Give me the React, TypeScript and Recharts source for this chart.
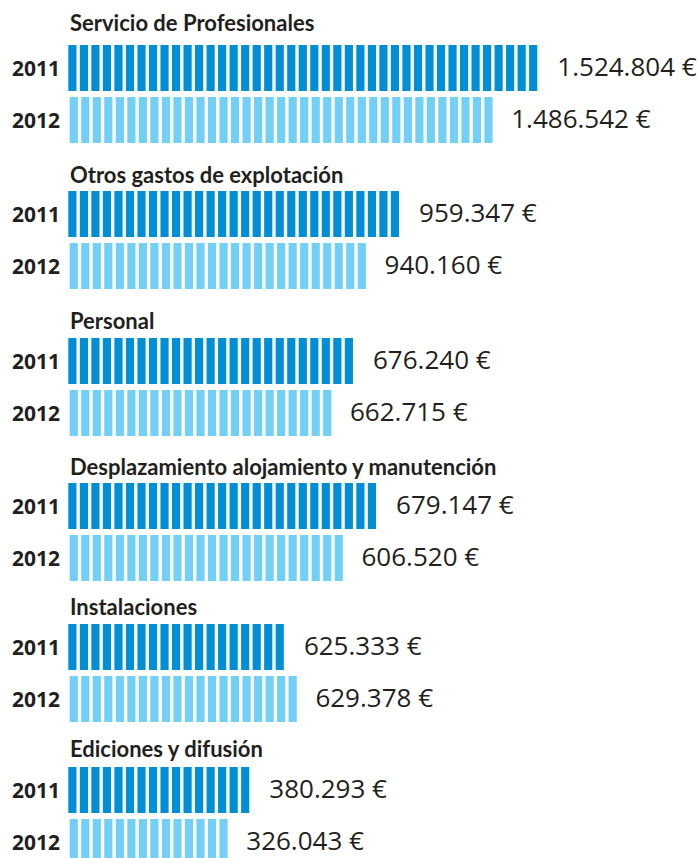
import { BarChart, Bar, XAxis, YAxis, LabelList } from "recharts";

const categories = [
  "Servicio de Profesionales",
  "Otros gastos de explotación",
  "Personal",
  "Desplazamiento alojamiento y manutención",
  "Instalaciones",
  "Ediciones y difusión",
];
const years = ["2011", "2012"];

// amounts printed next to each bar, in euros
const amounts2011 = [1524804, 959347, 676240, 679147, 625333, 380293];
const amounts2012 = [1486542, 940160, 662715, 606520, 629378, 326043];

// bar length as drawn in the graphic, counted in stripes
const stripes2011 = [41, 29, 25, 27, 19, 16];
const stripes2012 = [37, 26, 23, 24, 20, 14];

const stripeMax = 50;

// layout (page pixels)
const W = 698;
const H = 858;
const titleBaselines = [31, 183, 329, 475, 615, 757];
const chartTops = [42, 188, 335, 480, 621, 764];

const ink = "#231f20";
const colors = ["#008fd5", "#72d0f6"];

const euro = (n: number) =>
  n.toString().replace(/\B(?=(\d{3})+(?!\d))/g, ".") + " €";

function StripedBar(props: any) {
  const { x, y, width, height, payload } = props;
  const row = years.indexOf(payload.year);
  const units = payload.stripes;
  const unit = width / units;
  const shift = row === 1 ? 1.7 : 0.3;
  const rects = [];
  for (let k = 0; k < units; k++) {
    rects.push(
      <rect
        key={k}
        x={x + shift + k * unit}
        y={y}
        width={unit * 0.71}
        height={height}
        fill={colors[row]}
      />
    );
  }
  return <g>{rects}</g>;
}

function AmountLabel(props: any) {
  const { x, y, width, height, value } = props;
  return (
    <text
      x={x + width + 17}
      y={y + height / 2 + 8}
      fontFamily="'Open Sans', sans-serif"
      fontSize={26}
      fill={ink}
    >
      {euro(value)}
    </text>
  );
}

function YearTick(props: any) {
  const { x, y, payload } = props;
  return (
    <text
      x={x}
      y={y + 8}
      textAnchor="end"
      fontFamily="'Open Sans', sans-serif"
      fontWeight={700}
      fontSize={21}
      fill={ink}
    >
      {payload.value}
    </text>
  );
}

function Group({ i }: { i: number }) {
  const data = [
    { year: years[0], stripes: stripes2011[i], amount: amounts2011[i] },
    { year: years[1], stripes: stripes2012[i], amount: amounts2012[i] },
  ];
  return (
    <div style={{ position: "absolute", left: 0, top: chartTops[i] }}>
      <BarChart
        width={W}
        height={104}
        data={data}
        layout="vertical"
        margin={{ top: 0, right: 54, bottom: 0, left: 0 }}
      >
        <XAxis type="number" domain={[0, stripeMax]} hide />
        <YAxis
          type="category"
          dataKey="year"
          width={68}
          axisLine={false}
          tickLine={false}
          tickSize={0}
          tickMargin={8}
          tick={<YearTick />}
        />
        <Bar
          dataKey="stripes"
          barSize={46}
          shape={<StripedBar />}
          isAnimationActive={false}
        >
          <LabelList dataKey="amount" content={<AmountLabel />} />
        </Bar>
      </BarChart>
    </div>
  );
}

export default function App() {
  return (
    <div
      style={{
        position: "absolute",
        left: 0,
        top: 0,
        width: W,
        height: H,
        overflow: "hidden",
        background: "#fff",
      }}
    >
      {categories.map((_, i) => (
        <Group key={i} i={i} />
      ))}
      <svg
        width={W}
        height={H}
        style={{ position: "absolute", left: 0, top: 0, pointerEvents: "none" }}
      >
        {categories.map((c, i) => (
          <text
            key={c}
            x={70}
            y={titleBaselines[i]}
            fontFamily="Lato, sans-serif"
            fontWeight={700}
            fontSize={22}
            fill={ink}
          >
            {c}
          </text>
        ))}
      </svg>
    </div>
  );
}
